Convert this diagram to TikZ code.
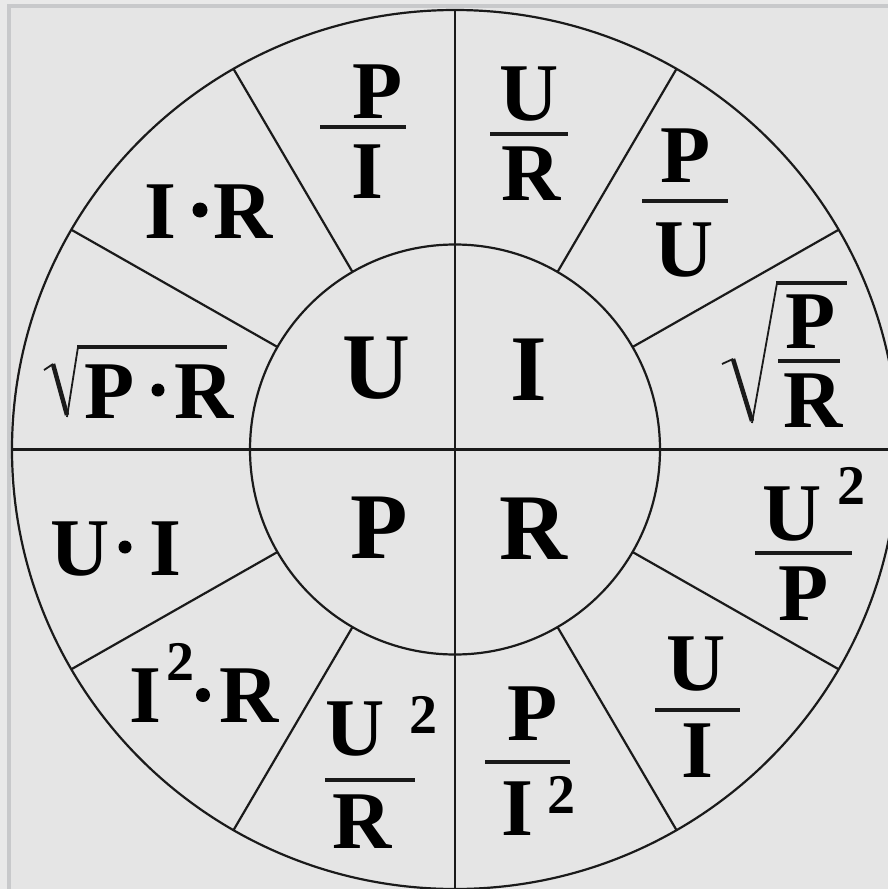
\documentclass[tikz,border=0pt]{standalone}
\usepackage{fontspec}
\setmainfont{Liberation Serif}
\usetikzlibrary{calc}
\definecolor{outbg}{HTML}{E9E9E9}
\definecolor{inbg}{HTML}{E5E5E5}
\definecolor{framec}{HTML}{C8C9CB}
\definecolor{inkc}{HTML}{1A1A1A}
\tikzset{
  ln/.style={line width=2.2pt, draw=inkc},
  barl/.style={line width=4pt, draw=inkc},
  radthin/.style={line width=1.8pt, draw=inkc, line join=miter},
  radthick/.style={line width=4.5pt, draw=inkc},
  bigl/.style={inner sep=0pt, anchor=base, text=black, font=\fontsize{94}{94}\selectfont\bfseries},
  lbl/.style={inner sep=0pt, anchor=base, text=black, font=\fontsize{82}{82}\selectfont\bfseries},
  supx/.style={inner sep=0pt, anchor=base, text=black, font=\fontsize{56}{56}\selectfont\bfseries},
  dotf/.style={fill=black}
}
\begin{document}
\begin{tikzpicture}[x=1pt,y=-1pt]
\useasboundingbox (0,0) rectangle (888,889);
\clip (0,0) rectangle (888,889);
\fill[outbg] (0,0) rectangle (888,889);
\draw[line width=3.5pt, draw=framec, fill=inbg] (9,6) rectangle (920,920);
\coordinate (O) at (455,449.5);
% circles
\draw[ln] (O) ellipse [x radius=443pt, y radius=439.5pt];
\draw[ln] (O) circle [radius=205pt];
% full diameters
\draw[ln] ($(O)+(-443,0)$) -- ($(O)+(443,0)$);
\draw[ln] ($(O)+(0,-439.5)$) -- ($(O)+(0,439.5)$);
% radial separators
\foreach \a in {30,60,120,150,210,240,300,330}{
  \draw[ln] ($(O)+({205*cos(\a)},{-205*sin(\a)})$) -- ($(O)+({443*cos(\a)},{-439.5*sin(\a)})$);
}
% inner letters
\node[bigl] (inU) at (376,398) {U};
\node[bigl] (inI) at (529,400) {I};
\node[bigl] (inP) at (379,558) {P};
\node[bigl] (inR) at (533,559) {R};
% I.R
\node[lbl] (irI) at (160.5,238) {I};
\fill[dotf] (200,210) circle [radius=7.5pt];
\node[lbl] (irR) at (243,238) {R};
% P/I
\node[lbl] (piP) at (378,118) {P};
\draw[barl] (320,127) -- (406,127);
\node[lbl] (piI) at (367,198) {I};
% U/R
\node[lbl] (urU) at (529,120) {U};
\draw[barl] (490,134) -- (568,134);
\node[lbl] (urR) at (531,200) {R};
% P/U
\node[lbl] (puP) at (686,182) {P};
\draw[barl] (642,201) -- (728,201);
\node[lbl] (puU) at (684,276) {U};
% sqrt(P/R)
\draw[radthin] (722,364) -- (733,359);
\draw[radthick] (733,359) -- (752,421);
\draw[radthin] (752,423) -- (777,283);
\draw[barl] (776,283) -- (847,283);
\node[lbl] (sqP) at (811,348) {P};
\draw[barl] (778,361) -- (840,361);
\node[lbl] (sqR) at (813,427) {R};
% U^2/P
\node[lbl] (upU) at (792,540) {U};
\node[supx] (upTwo) at (851,504) {2};
\draw[barl] (755,553) -- (852,553);
\node[lbl] (upP) at (804,620) {P};
% U/I
\node[lbl] (uiU) at (696,690) {U};
\draw[barl] (655,710) -- (740,710);
\node[lbl] (uiI) at (697,777) {I};
% P/I^2
\node[lbl] (pqP) at (533,740) {P};
\draw[barl] (485,762) -- (570,762);
\node[lbl] (pqI) at (517,835) {I};
\node[supx] (pqTwo) at (561,813) {2};
% U^2/R
\node[lbl] (urrU) at (355,755) {U};
\node[supx] (urrTwo) at (423,733) {2};
\draw[barl] (325,780) -- (415,780);
\node[lbl] (urrR) at (362,848) {R};
% I^2.R
\node[lbl] (iiI) at (145.5,722) {I};
\node[supx] (iiTwo) at (180,680) {2};
\fill[dotf] (203,695) circle [radius=7pt];
\node[lbl] (iiR) at (249,722) {R};
% U.I
\node[lbl] (uxU) at (80,575) {U};
\fill[dotf] (125,547) circle [radius=6.5pt];
\node[lbl] (uxI) at (165,575) {I};
% sqrt(P.R)
\draw[radthin] (44,370) -- (53,364);
\draw[radthick] (53,364) -- (67,415);
\draw[radthin] (67,417) -- (78,347);
\draw[barl] (77,347) -- (227,347);
\node[lbl] (spP) at (110,418) {P};
\fill[dotf] (158,390) circle [radius=6.5pt];
\node[lbl] (spR) at (204,418) {R};
\end{tikzpicture}
\end{document}
